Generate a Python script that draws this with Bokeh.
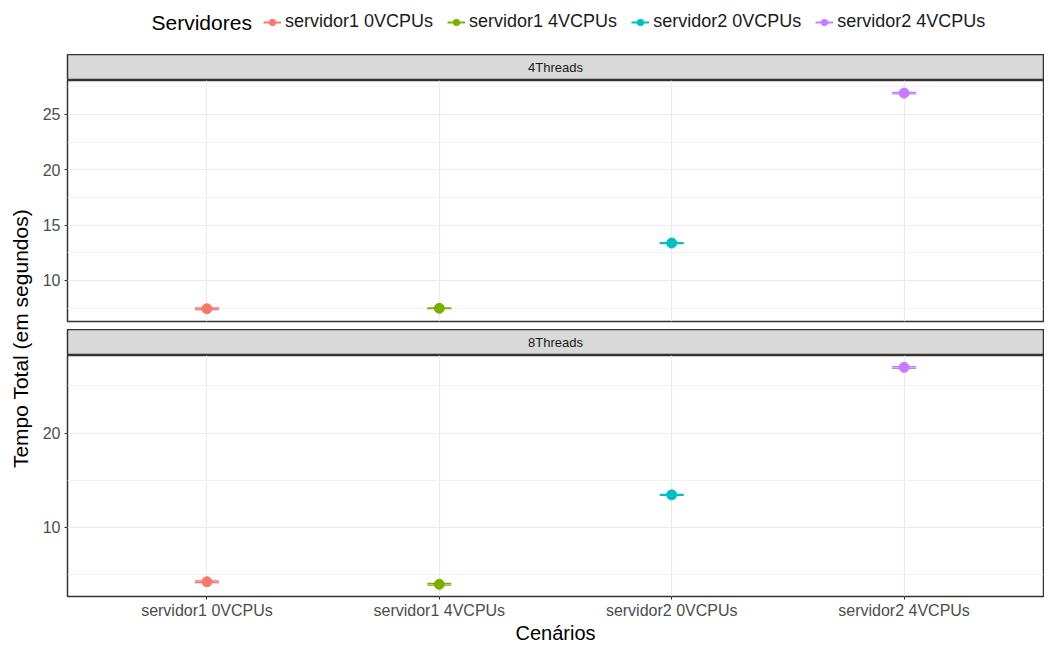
from bokeh.plotting import figure
from bokeh.models import (FactorRange, Range1d, SingleIntervalTicker, ColumnDataSource,
                          Whisker, TeeHead, Legend, LegendItem, Label)
from bokeh.layouts import column, row
from bokeh.embed import file_html
from bokeh.resources import INLINE

# ---------------- data ----------------
cenarios = ["servidor1 0VCPUs", "servidor1 4VCPUs", "servidor2 0VCPUs", "servidor2 4VCPUs"]
cores = ["#F8766D", "#7CAE00", "#00BFC4", "#C77CFF"]
paineis = ["4Threads", "8Threads"]

media_4t = [7.43, 7.47, 13.37, 26.92]
inf_4t = [7.36, 7.44, 13.33, 26.86]
sup_4t = [7.50, 7.50, 13.41, 26.98]

media_8t = [4.24, 3.97, 13.45, 26.96]
inf_8t = [4.16, 3.88, 13.40, 26.87]
sup_8t = [4.32, 4.06, 13.50, 27.05]

FONT = "Liberation Sans"
FW = 976
LEFT = 30
FH = 241
x_range = FactorRange(*cenarios, range_padding=0.1, range_padding_units="absolute")


def style_axis(ax):
    ax.major_label_text_font = FONT
    ax.major_label_text_font_size = "16px"
    ax.major_label_text_color = "#4d4d4d"
    ax.major_tick_line_color = "#333333"
    ax.major_tick_out = 3
    ax.major_tick_in = 0
    ax.minor_tick_line_color = None
    ax.axis_line_color = None
    ax.major_label_standoff = 3


def make_strip(texto):
    s = figure(frame_width=FW, frame_height=26, x_range=x_range, y_range=Range1d(0, 1),
               toolbar_location=None, output_backend="svg",
               x_axis_location=None, y_axis_location=None,
               min_border_left=LEFT, min_border_right=1, min_border_top=0, min_border_bottom=0,
               background_fill_color="#d9d9d9", outline_line_color="#333333",
               outline_line_width=1.5)
    s.grid.visible = False
    s.add_layout(Label(x=len(cenarios) / 2, y=0.5, text=texto, text_align="center",
                       text_baseline="middle", text_font=FONT, text_font_size="13px",
                       text_color="#1a1a1a"))
    return s


def make_panel(media, inf, sup, fh, yr, interval, show_x, bottom_border):
    p = figure(frame_width=FW, frame_height=fh, x_range=x_range, y_range=Range1d(*yr),
               toolbar_location=None, output_backend="svg",
               x_axis_location="below" if show_x else None,
               min_border_left=LEFT, min_border_right=1, min_border_top=0,
               min_border_bottom=bottom_border,
               background_fill_color="white", outline_line_color="#333333",
               outline_line_width=1.5)
    p.yaxis.ticker = SingleIntervalTicker(interval=interval, num_minor_ticks=2)
    style_axis(p.yaxis[0])
    if show_x:
        style_axis(p.xaxis[0])
        p.xaxis.major_label_standoff = 2
        p.xaxis.axis_label = "Cenários"
        p.xaxis.axis_label_text_font = FONT
        p.xaxis.axis_label_text_font_size = "20px"
        p.xaxis.axis_label_text_font_style = "normal"
        p.xaxis.axis_label_text_color = "#000000"
        p.xaxis.axis_label_standoff = 0
    p.ygrid.grid_line_color = "#ebebeb"
    p.ygrid.grid_line_width = 1.2
    p.ygrid.minor_grid_line_color = "#f2f2f2"
    p.ygrid.minor_grid_line_width = 1
    p.xgrid.grid_line_color = "#ebebeb"
    p.xgrid.grid_line_width = 1.2
    for i, c in enumerate(cenarios):
        src = ColumnDataSource(dict(x=[c], y=[media[i]], lo=[inf[i]], hi=[sup[i]]))
        p.add_layout(Whisker(base="x", upper="hi", lower="lo", source=src, dimension="height",
                             line_color=cores[i], line_width=1.3, level="glyph",
                             upper_head=TeeHead(size=24, line_color=cores[i], line_width=1.3),
                             lower_head=TeeHead(size=24, line_color=cores[i], line_width=1.3)))
        p.scatter("x", "y", source=src, size=10, color=cores[i])
    return p


# ---------------- legend ----------------
LEG_H = 54
leg = figure(width=1044, height=LEG_H, x_range=FactorRange(*cenarios), y_range=Range1d(1000, 1001),
             toolbar_location=None, output_backend="svg",
             x_axis_location=None, y_axis_location=None, min_border=0,
             outline_line_color=None)
leg.grid.visible = False
items = []
for i, c in enumerate(cenarios):
    r1 = leg.segment(x0=[c], y0=[media_4t[i]], x1=[c], y1=[media_4t[i]],
                     line_color=cores[i], line_width=2)
    r2 = leg.scatter(x=[c], y=[media_4t[i]], size=10, color=cores[i])
    items.append(LegendItem(label=c, renderers=[r1, r2]))
legend = Legend(items=items, orientation="horizontal", location=(263, LEG_H - 22 - 10),
                border_line_color=None, background_fill_alpha=0, padding=0, margin=0,
                spacing=14, glyph_width=18, glyph_height=16, label_standoff=4,
                label_height=20, label_text_font=FONT, label_text_font_size="18px",
                label_text_color="#1a1a1a")
leg.add_layout(legend, "center")
leg.add_layout(Label(x=151, y=LEG_H - 22, x_units="screen", y_units="screen", text="Servidores",
                     text_baseline="middle", text_font=FONT, text_font_size="21px",
                     text_color="#000000"))

# ---------------- y label ----------------
YL_H = 646 - LEG_H
ylab = figure(width=37, height=YL_H, toolbar_location=None, output_backend="svg",
              x_axis_location=None, y_axis_location=None, min_border=0,
              outline_line_color=None)
ylab.grid.visible = False
ylab.add_layout(Label(x=20, y=YL_H - (338 - LEG_H), x_units="screen", y_units="screen",
                      text="Tempo Total (em segundos)", angle=90, angle_units="deg",
                      text_align="center", text_baseline="middle", text_font=FONT,
                      text_font_size="21px", text_color="#000000"))

# ---------------- panels ----------------
s1 = make_strip(paineis[0])
p1 = make_panel(media_4t, inf_4t, sup_4t, FH, (6.28, 28.06), 5, False, 8)
s2 = make_strip(paineis[1])
p2 = make_panel(media_8t, inf_8t, sup_8t, FH, (2.68, 28.22), 10, True, 0)

layout = column(leg, row(ylab, column(s1, p1, s2, p2)))
open("out.html", "w").write(file_html(layout, INLINE))
